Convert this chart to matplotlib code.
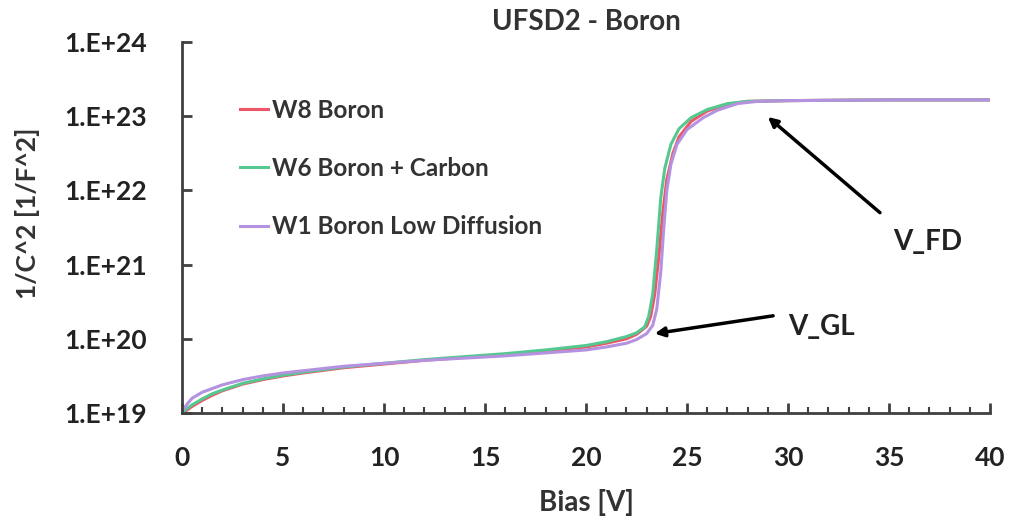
import matplotlib
matplotlib.use("Agg")
import matplotlib.pyplot as plt
from matplotlib.ticker import FixedLocator, FuncFormatter, MultipleLocator
import numpy as np

plt.rcParams['font.family'] = ['Lato', 'DejaVu Sans']
plt.rcParams['font.weight'] = 'bold'

# data: bias [V] and log10(1/C^2)
bias_w8 = [0, 0.25, 0.5, 1, 1.5, 2, 3, 4, 5, 6, 8, 10, 12, 14, 16, 18, 20, 21, 22, 22.5,
           23, 23.2, 23.4, 23.6, 23.8, 24.0, 24.3, 24.6, 25.2, 26, 27, 28, 30, 35, 40]
logc_w8 = [19.0, 19.04, 19.09, 19.17, 19.24, 19.3, 19.39, 19.45, 19.5, 19.54, 19.61, 19.66,
           19.71, 19.75, 19.79, 19.84, 19.89, 19.94, 20.0, 20.06, 20.17, 20.3, 20.6, 21.1,
           21.7, 22.15, 22.5, 22.72, 22.93, 23.07, 23.16, 23.2, 23.21, 23.22, 23.22]

bias_w6 = [0, 0.25, 0.5, 1, 1.5, 2, 3, 4, 5, 6, 8, 10, 12, 14, 16, 18, 20, 21, 22, 22.5,
           22.9, 23.1, 23.3, 23.5, 23.7, 23.9, 24.2, 24.6, 25.2, 26, 27, 28, 30, 35, 40]
logc_w6 = [19.0, 19.06, 19.11, 19.19, 19.26, 19.31, 19.4, 19.46, 19.51, 19.55, 19.62, 19.67,
           19.72, 19.76, 19.8, 19.85, 19.91, 19.96, 20.03, 20.08, 20.16, 20.3, 20.6, 21.2,
           21.9, 22.3, 22.62, 22.83, 22.98, 23.09, 23.17, 23.2, 23.21, 23.22, 23.22]

bias_w1 = [0, 0.25, 0.5, 1, 1.5, 2, 3, 4, 5, 6, 8, 10, 12, 14, 16, 18, 20, 21, 22, 22.5,
           23, 23.3, 23.5, 23.7, 23.85, 24.0, 24.2, 24.5, 25, 25.8, 26.5, 27.5, 28.5, 30, 35, 40]
logc_w1 = [19.02, 19.12, 19.2, 19.28, 19.33, 19.38, 19.45, 19.5, 19.54, 19.57, 19.63, 19.67,
           19.71, 19.74, 19.77, 19.81, 19.85, 19.89, 19.94, 19.99, 20.07, 20.18, 20.4, 20.9,
           21.5, 22.0, 22.35, 22.62, 22.82, 22.98, 23.08, 23.17, 23.2, 23.21, 23.22, 23.22]

labels = ['W8 Boron', 'W6 Boron + Carbon', 'W1 Boron Low Diffusion']
colors = ['#ee5566', '#55c890', '#b592e0']

fig = plt.figure(figsize=(10.17, 5.25), dpi=100)
ax = fig.add_axes([0.179, 0.2133, 0.7945, 0.7067])

series = [(bias_w8, logc_w8), (bias_w6, logc_w6), (bias_w1, logc_w1)]
for (b, lc), lab, col in zip(series, labels, colors):
    ax.plot(b, 10 ** np.array(lc), color=col, lw=2.2, label=lab)

ax.set_yscale('log')
ax.set_ylim(1e19, 1e24)
ax.set_xlim(0, 40)
ax.yaxis.set_major_locator(FixedLocator([1e19, 1e20, 1e21, 1e22, 1e23, 1e24]))
ax.yaxis.set_minor_locator(FixedLocator([]))
ax.yaxis.set_major_formatter(FuncFormatter(lambda v, p: '1.E+%d' % round(np.log10(v))))
ax.xaxis.set_major_locator(MultipleLocator(5))
ax.xaxis.set_minor_locator(MultipleLocator(1))

for s in ['top', 'right']:
    ax.spines[s].set_visible(False)
for s in ['left', 'bottom']:
    ax.spines[s].set_linewidth(2)
    ax.spines[s].set_color('#404040')

ax.tick_params(axis='both', which='major', direction='in', length=7, width=2,
               color='#404040', labelsize=19, labelcolor='#222222')
ax.tick_params(axis='x', which='minor', direction='in', length=4, width=1.5, color='#404040')
ax.tick_params(axis='y', pad=25)
ax.tick_params(axis='x', pad=24)
for t in ax.get_xticklabels() + ax.get_yticklabels():
    t.set_fontweight('bold')

fig.text(0.5762, 0.958, 'UFSD2 - Boron', fontsize=20, fontweight='bold',
         color='#333333', ha='center', va='center')
fig.text(0.5762, 0.042, 'Bias [V]', fontsize=20, fontweight='bold',
         color='#333333', ha='center', va='center')
fig.text(0.0275, 0.594, '1/C^2 [1/F^2]', fontsize=19, fontweight='bold',
         color='#333333', ha='center', va='center', rotation=90)

leg = ax.legend(loc='upper left', bbox_to_anchor=(0.045, 0.906), frameon=False,
                prop={'size': 17.5, 'weight': 'bold'}, handlelength=1.15,
                handletextpad=0.15, labelspacing=1.45, labelcolor='#333333')

arrow = dict(arrowstyle='-|>', color='black', lw=2.5, mutation_scale=14,
             shrinkA=0, shrinkB=0)
ax.annotate('', xy=(23.4, 10 ** 20.07), xytext=(29.26, 10 ** 20.31), arrowprops=arrow)
ax.annotate('', xy=(29.0, 10 ** 22.99), xytext=(34.55, 10 ** 21.70), arrowprops=arrow)
ax.text(30.0, 10 ** 20.16, 'V_GL', fontsize=20, fontweight='bold', color='#222222',
        ha='left', va='center')
ax.text(35.2, 10 ** 21.31, 'V_FD', fontsize=20, fontweight='bold', color='#222222',
        ha='left', va='center')

fig.savefig('out.png', dpi=100)
